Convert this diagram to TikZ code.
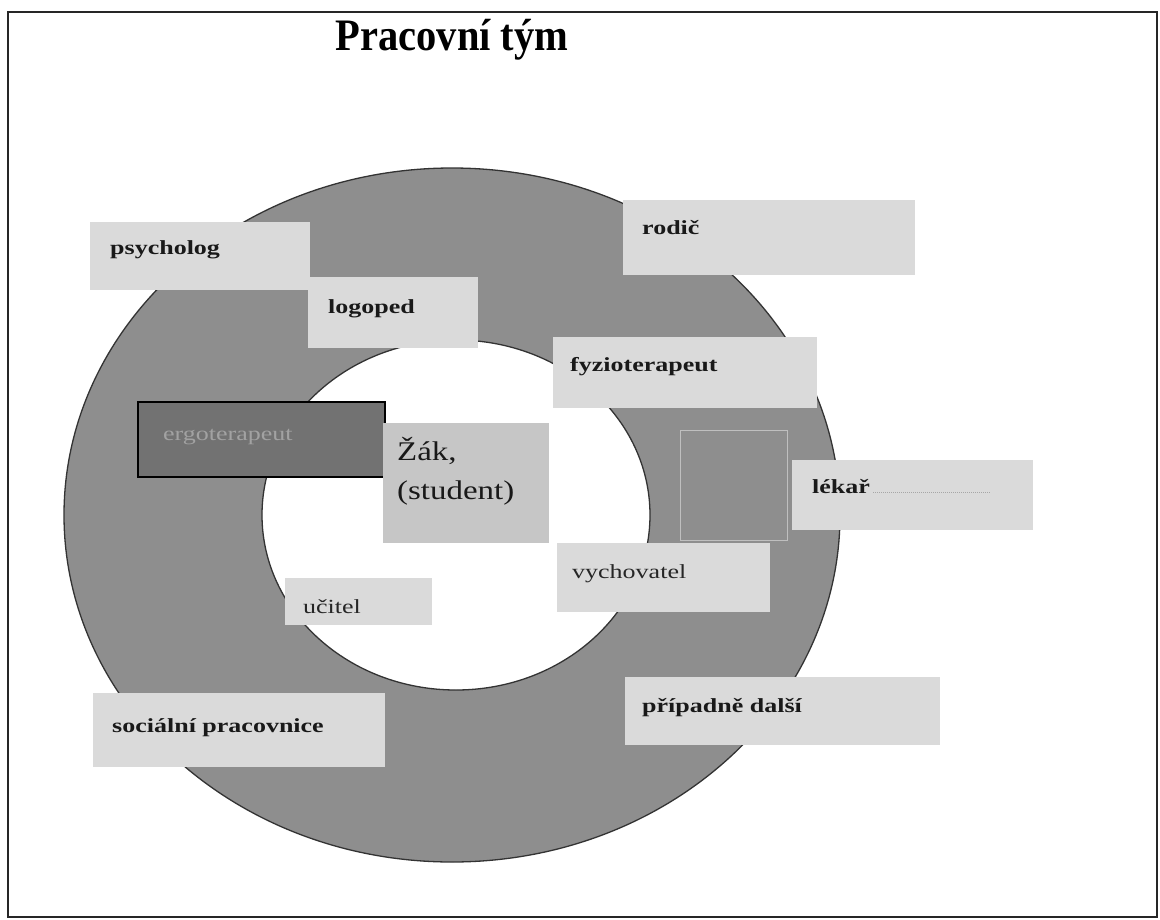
\documentclass[tikz,border=0pt]{standalone}
\usepackage{fontspec}
\setmainfont{Liberation Serif}
\newfontfamily\lblfont[FakeStretch=1.3]{Liberation Serif}
\newfontfamily\ttlfont[FakeStretch=0.9]{Liberation Serif}
\newfontfamily\zakfont[FakeStretch=1.22]{Liberation Serif}
\definecolor{ringgray}{HTML}{8E8E8E}
\definecolor{boxgray}{HTML}{DADADA}
\definecolor{zakgray}{HTML}{C6C6C6}
\definecolor{ergogray}{HTML}{727272}
\definecolor{ergotext}{HTML}{A2A2A2}
\tikzset{
  box/.style={fill=boxgray, draw=none, inner sep=0pt},
  lbl/.style={inner sep=0pt, anchor=base west, font=\lblfont\fontsize{20}{24}\selectfont\bfseries, text=black!90},
  lblr/.style={inner sep=0pt, anchor=base west, font=\lblfont\fontsize{20}{24}\selectfont, text=black!85},
}
\begin{document}
\begin{tikzpicture}[x=1pt,y=-1pt]
\useasboundingbox (0,0) rectangle (1160,919);
\fill[white] (0,0) rectangle (1160,919);
% frame
\draw[line width=1.8pt, black!85] (8,12) rectangle (1157,917);
% title
\node[inner sep=0pt, anchor=base, font=\ttlfont\fontsize{45}{50}\selectfont\bfseries] (title) at (452,50) {Pracovní tým};
% ring
\fill[ringgray, even odd rule] (452,515) ellipse [x radius=388pt, y radius=347pt]
      (456,515) ellipse [x radius=194pt, y radius=175pt];
\draw[line width=1.3pt, black!80] (452,515) ellipse [x radius=388pt, y radius=347pt];
\draw[line width=1.3pt, black!80] (456,515) ellipse [x radius=194pt, y radius=175pt];
% faint rectangle in ring
\draw[line width=1pt, black!25] (680,430) rectangle (787,540);
% boxes
\node[box, minimum width=220pt, minimum height=68pt] (psyb) at (200,256) {};
\node[box, minimum width=170pt, minimum height=71pt] (logb) at (393,312) {};
\node[box, minimum width=292pt, minimum height=75pt] (rodb) at (769,237) {};
\node[box, minimum width=264pt, minimum height=71pt] (fyzb) at (685,372) {};
\node[fill=ergogray, draw=black, line width=1.5pt, inner sep=0pt, minimum width=247pt, minimum height=75pt] (ergb) at (261.5,439.5) {};
\node[fill=zakgray, inner sep=0pt, minimum width=166pt, minimum height=120pt] (zakb) at (466,483) {};
\node[box, minimum width=241pt, minimum height=70pt] (lekb) at (912.5,495) {};
\node[box, minimum width=213pt, minimum height=69pt] (vycb) at (663.5,577.5) {};
\node[box, minimum width=147pt, minimum height=47pt] (ucib) at (358.5,601.5) {};
\node[box, minimum width=315pt, minimum height=68pt] (prib) at (782.5,711) {};
\node[box, minimum width=292pt, minimum height=74pt] (socb) at (239,730) {};
% texts
\node[lbl] (psy) at (110,254) {psycholog};
\node[lbl] (log) at (328,313) {logoped};
\node[lbl] (rod) at (642,234) {rodič};
\node[lbl] (fyz) at (570,371) {fyzioterapeut};
\node[lblr, text=ergotext] (erg) at (163,440) {ergoterapeut};
\node[inner sep=0pt, anchor=base west, align=left, text=black!90, font=\zakfont\fontsize{27}{39}\selectfont] (zak) at (397,499) {Žák,\\(student)};
\node[lbl] (lek) at (812,493) {lékař};
\draw[black!35, line width=1pt, densely dotted] (873,492) -- (990,492);
\node[lblr] (vyc) at (572,578) {vychovatel};
\node[lblr] (uci) at (303,613) {učitel};
\node[lbl] (pri) at (642,712) {případně další};
\node[lbl] (soc) at (112,732) {sociální pracovnice};
\end{tikzpicture}
\end{document}
